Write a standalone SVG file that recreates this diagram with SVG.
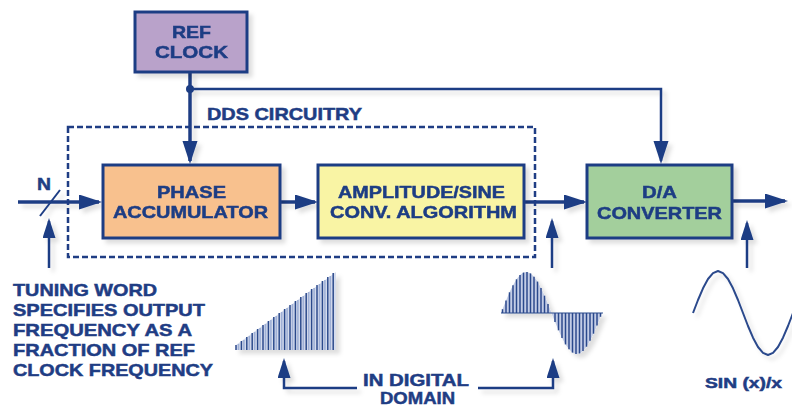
<svg xmlns="http://www.w3.org/2000/svg" width="792" height="407" viewBox="0 0 792 407">
<defs>
<style>
text{font-family:"Liberation Sans",Arial,sans-serif;font-weight:bold;fill:#1f3d84;stroke:#1f3d84;stroke-width:0.5;}
.lbl{font-size:17px;}
.sm{font-size:15px;}
.box{stroke:#1f3d84;stroke-width:3;}
.ln{fill:none;stroke:#1f3d84;stroke-width:3.5;}
.ln2{fill:none;stroke:#1f3d84;stroke-width:2.5;}
.bar{stroke:#2c4a8c;stroke-width:1.5;}
.barl{stroke:#9fb0d6;stroke-width:1.6;}
</style>
<filter id="sh" x="-10%" y="-10%" width="130%" height="140%">
<feDropShadow dx="4" dy="4" stdDeviation="2" flood-color="#000" flood-opacity="0.13"/>
</filter>
<marker id="big" markerUnits="userSpaceOnUse" markerWidth="24" markerHeight="16" viewBox="0 0 24 16" refX="20" refY="7.5" orient="auto">
<path d="M0,0 L23,7.5 L0,15 z" fill="#1f3d84"/>
</marker>
<marker id="small" markerUnits="userSpaceOnUse" markerWidth="22" markerHeight="14" viewBox="0 0 22 14" refX="17" refY="6.5" orient="auto">
<path d="M0,0 L20,6.5 L0,13 z" fill="#1f3d84"/>
</marker>
</defs>
<rect width="792" height="407" fill="#fff"/>

<g id="connectors" filter="url(#sh)">
<line class="ln" x1="190" y1="72" x2="190" y2="161" marker-end="url(#big)"/>
<polyline class="ln2" points="190,89 661,89 661,161" marker-end="url(#big)"/>
<circle cx="190" cy="89" r="4" fill="#1f3d84"/>
<line class="ln" x1="18" y1="202" x2="99" y2="202" marker-end="url(#big)"/>
<line x1="40" y1="216" x2="60" y2="190" stroke="#1f3d84" stroke-width="2"/>
<line class="ln" x1="280" y1="202" x2="315" y2="202" marker-end="url(#big)"/>
<line class="ln" x1="524" y1="202" x2="584" y2="202" marker-end="url(#big)"/>
<line class="ln" x1="732" y1="201" x2="785" y2="201" marker-end="url(#big)"/>
<line class="ln2" x1="49" y1="268" x2="49" y2="221" marker-end="url(#small)"/>
<line class="ln2" x1="552" y1="268" x2="552" y2="221" marker-end="url(#small)"/>
<line class="ln2" x1="747" y1="268" x2="747" y2="223" marker-end="url(#small)"/>
<polyline class="ln2" points="357,388 284,388 284,361" marker-end="url(#small)"/>
<polyline class="ln2" points="478,388 553,388 553,361" marker-end="url(#small)"/>
</g>

<g id="dds_circuitry">
<rect x="68" y="127" width="467" height="130" fill="none" stroke="#1f3d84" stroke-width="2.5" stroke-dasharray="6 3"/>
<text class="lbl" x="207" y="120" textLength="155" lengthAdjust="spacingAndGlyphs">DDS CIRCUITRY</text>
</g>

<g id="ref_clock" filter="url(#sh)">
<rect class="box" x="135" y="12" width="112" height="60" fill="#b9a2ca"/>
<text class="lbl" x="172" y="38" textLength="39" lengthAdjust="spacingAndGlyphs">REF</text>
<text class="lbl" x="155" y="58" textLength="73" lengthAdjust="spacingAndGlyphs">CLOCK</text>
</g>

<g id="phase_accumulator" filter="url(#sh)">
<rect class="box" x="103" y="165" width="177" height="73" fill="#f8c18e"/>
<text class="lbl" x="157" y="198" textLength="69" lengthAdjust="spacingAndGlyphs">PHASE</text>
<text class="lbl" x="113" y="218" textLength="155" lengthAdjust="spacingAndGlyphs">ACCUMULATOR</text>
</g>

<g id="amplitude_sine" filter="url(#sh)">
<rect class="box" x="318" y="165" width="206" height="73" fill="#f9f4a4"/>
<text class="lbl" x="338" y="198" textLength="167" lengthAdjust="spacingAndGlyphs">AMPLITUDE/SINE</text>
<text class="lbl" x="330" y="218" textLength="187" lengthAdjust="spacingAndGlyphs">CONV. ALGORITHM</text>
</g>

<g id="da_converter" filter="url(#sh)">
<rect class="box" x="587" y="165" width="145" height="73" fill="#a3cf9c"/>
<text class="lbl" x="642" y="198" textLength="35" lengthAdjust="spacingAndGlyphs">D/A</text>
<text class="lbl" x="597" y="219" textLength="125" lengthAdjust="spacingAndGlyphs">CONVERTER</text>
</g>

<g id="labels">
<text class="lbl" x="37" y="190" textLength="14" lengthAdjust="spacingAndGlyphs">N</text>
<text class="lbl" x="13" y="296" textLength="144" lengthAdjust="spacingAndGlyphs">TUNING WORD</text>
<text class="lbl" x="13" y="316" textLength="192" lengthAdjust="spacingAndGlyphs">SPECIFIES OUTPUT</text>
<text class="lbl" x="13" y="336" textLength="179" lengthAdjust="spacingAndGlyphs">FREQUENCY AS A</text>
<text class="lbl" x="13" y="356" textLength="182" lengthAdjust="spacingAndGlyphs">FRACTION OF REF</text>
<text class="lbl" x="13" y="376" textLength="200" lengthAdjust="spacingAndGlyphs">CLOCK FREQUENCY</text>
<text class="lbl" x="363" y="386" textLength="106" lengthAdjust="spacingAndGlyphs">IN DIGITAL</text>
<text class="lbl" x="380" y="404" textLength="75" lengthAdjust="spacingAndGlyphs">DOMAIN</text>
<text class="sm" x="705" y="388" textLength="77" lengthAdjust="spacingAndGlyphs">SIN (x)/x</text>
</g>

<g id="ramp_waveform" filter="url(#sh)">
<polygon points="236,345 336,272 336,350 236,350" fill="#d5dced"/>
<g class="barl">
<line x1="238.5" y1="350" x2="238.5" y2="344"/><line x1="243.9" y1="350" x2="243.9" y2="340"/><line x1="249.3" y1="350" x2="249.3" y2="336"/><line x1="254.7" y1="350" x2="254.7" y2="332"/><line x1="260.1" y1="350" x2="260.1" y2="328"/><line x1="265.5" y1="350" x2="265.5" y2="324"/><line x1="270.9" y1="350" x2="270.9" y2="320"/><line x1="276.3" y1="350" x2="276.3" y2="316"/><line x1="281.7" y1="350" x2="281.7" y2="312"/><line x1="287.1" y1="350" x2="287.1" y2="308"/><line x1="292.5" y1="350" x2="292.5" y2="304"/><line x1="297.9" y1="350" x2="297.9" y2="300"/><line x1="303.3" y1="350" x2="303.3" y2="296"/><line x1="308.7" y1="350" x2="308.7" y2="292"/><line x1="314.1" y1="350" x2="314.1" y2="288"/><line x1="319.5" y1="350" x2="319.5" y2="284"/><line x1="324.9" y1="350" x2="324.9" y2="280"/><line x1="330.3" y1="350" x2="330.3" y2="276"/>
</g>
<g class="bar">
<line x1="236" y1="350" x2="236" y2="345"/><line x1="241.4" y1="350" x2="241.4" y2="341"/><line x1="246.8" y1="350" x2="246.8" y2="337"/><line x1="252.2" y1="350" x2="252.2" y2="333"/><line x1="257.6" y1="350" x2="257.6" y2="329"/><line x1="263" y1="350" x2="263" y2="325"/><line x1="268.4" y1="350" x2="268.4" y2="321"/><line x1="273.8" y1="350" x2="273.8" y2="317"/><line x1="279.2" y1="350" x2="279.2" y2="313"/><line x1="284.6" y1="350" x2="284.6" y2="309"/><line x1="290" y1="350" x2="290" y2="305"/><line x1="295.4" y1="350" x2="295.4" y2="301"/><line x1="300.8" y1="350" x2="300.8" y2="297"/><line x1="306.2" y1="350" x2="306.2" y2="293"/><line x1="311.6" y1="350" x2="311.6" y2="289"/><line x1="317" y1="350" x2="317" y2="285"/><line x1="322.4" y1="350" x2="322.4" y2="281"/><line x1="327.8" y1="350" x2="327.8" y2="277"/><line x1="333.2" y1="350" x2="333.2" y2="273"/>
</g>
</g>

<g id="sampled_sine" filter="url(#sh)">
<path d="M501,313 L502.5,309.2 506,300.5 509.5,292.3 513,285.2 516.5,279.3 520,275.1 523.5,272.6 527,272 530.5,273.4 534,276.7 537.5,281.6 541,288.1 544.5,295.7 548,304.1 551.5,313 555,321.9 558.5,330.3 562,337.9 565.5,344.4 569,349.3 572.5,352.6 576,354 579.5,353.4 583,350.9 586.5,346.7 590,340.8 593.5,333.7 597,325.5 600.5,316.8 602,313 Z" fill="#c3cde6"/>
<line x1="501" y1="313" x2="603" y2="313" stroke="#2c4a8c" stroke-width="1.2"/>
<g class="bar">
<line x1="502.5" y1="313" x2="502.5" y2="309.2"/><line x1="506" y1="313" x2="506" y2="300.5"/><line x1="509.5" y1="313" x2="509.5" y2="292.3"/><line x1="513" y1="313" x2="513" y2="285.2"/><line x1="516.5" y1="313" x2="516.5" y2="279.3"/><line x1="520" y1="313" x2="520" y2="275.1"/><line x1="523.5" y1="313" x2="523.5" y2="272.6"/><line x1="527" y1="313" x2="527" y2="272"/><line x1="530.5" y1="313" x2="530.5" y2="273.4"/><line x1="534" y1="313" x2="534" y2="276.7"/><line x1="537.5" y1="313" x2="537.5" y2="281.6"/><line x1="541" y1="313" x2="541" y2="288.1"/><line x1="544.5" y1="313" x2="544.5" y2="295.7"/><line x1="548" y1="313" x2="548" y2="304.1"/>
<line x1="555" y1="313" x2="555" y2="321.9"/><line x1="558.5" y1="313" x2="558.5" y2="330.3"/><line x1="562" y1="313" x2="562" y2="337.9"/><line x1="565.5" y1="313" x2="565.5" y2="344.4"/><line x1="569" y1="313" x2="569" y2="349.3"/><line x1="572.5" y1="313" x2="572.5" y2="352.6"/><line x1="576" y1="313" x2="576" y2="354"/><line x1="579.5" y1="313" x2="579.5" y2="353.4"/><line x1="583" y1="313" x2="583" y2="350.9"/><line x1="586.5" y1="313" x2="586.5" y2="346.7"/><line x1="590" y1="313" x2="590" y2="340.8"/><line x1="593.5" y1="313" x2="593.5" y2="333.7"/><line x1="597" y1="313" x2="597" y2="325.5"/><line x1="600.5" y1="313" x2="600.5" y2="316.8"/>
</g>
</g>

<g id="analog_sine" filter="url(#sh)">
<polyline points="693,313 698,300 703,288.3 708,279 713,273.1 718,271 723,273.1 728,279 733,288.3 738,300 743,313 748,326 753,337.7 758,347 763,352.9 768,355 773,352.9 778,347 783,337.7 788,326 793,313" fill="none" stroke="#2c4a8c" stroke-width="2" stroke-linejoin="round"/>
</g>
</svg>
